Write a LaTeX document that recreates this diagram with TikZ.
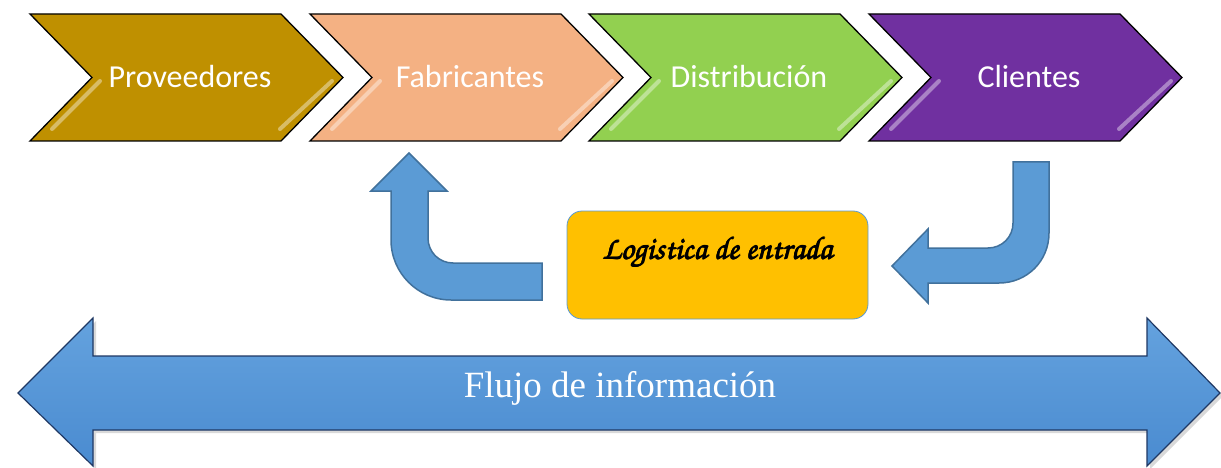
\documentclass[tikz,border=0pt]{standalone}
\usepackage[T1,TU]{fontenc}
\usepackage{fontspec}
\setmainfont{Carlito}
\newfontfamily\flujofont{Liberation Serif}
\usetikzlibrary{shadows, positioning}
\definecolor{provcol}{HTML}{BF9000}
\definecolor{fabcol}{HTML}{F4B183}
\definecolor{distcol}{HTML}{92D050}
\definecolor{clicol}{HTML}{7030A0}
\definecolor{bentblue}{HTML}{5B9BD5}
\definecolor{bentedge}{HTML}{41719C}
\definecolor{logyellow}{HTML}{FFC000}
\definecolor{flujoedge}{HTML}{1F3864}
\definecolor{flujotop}{HTML}{64A2DE}
\definecolor{flujobot}{HTML}{4A8BD0}
% poor man's bold for the script face
\newcommand\heavytext[1]{\rlap{\kern.8pt#1}\rlap{\kern.4pt\raisebox{.6pt}{#1}}\rlap{\raisebox{-.4pt}{#1}}#1}

\begin{document}
\begin{tikzpicture}[x=1pt, y=-1pt,
    chevron/.style={draw=black, line width=1.3pt, line join=miter},
    chevtext/.style={text=white, anchor=base, font=\fontsize{32}{36}\selectfont},
    gloss/.style={white, opacity=0.4, line width=4pt, line cap=round},
    bentarrow/.style={fill=bentblue, draw=bentedge, line width=1.5pt, line join=miter},
    logbox/.style={fill=logyellow, draw=bentblue, line width=0.8pt, rounded corners=15pt,
                   minimum width=301pt, minimum height=108pt},
    logtext/.style={font=\usefont{T1}{pzc}{mb}{it}\fontsize{32}{36}\selectfont},
    flujo/.style={draw=flujoedge, line width=1.2pt, top color=flujotop, bottom color=flujobot,
                  drop shadow={opacity=0.3, shadow xshift=3pt, shadow yshift=-3pt}},
    flujotext/.style={text=white, font=\flujofont\fontsize{37}{40}\selectfont}]
\useasboundingbox (0,0) rectangle (1221,468);

% The four steps of the chain
    \foreach \x/\c/\A/\n in {30/provcol/Proveedores/prov,
                             310/fabcol/Fabricantes/fab,
                             589/distcol/Distribución/dist,
                             869/clicol/Clientes/cli} {
        \draw[chevron, fill=\c] (\x,14) -- ({\x+251},14) -- ({\x+313},77.5)
            -- ({\x+251},141) -- (\x,141) -- ({\x+62},77.5) -- cycle;
        \draw[gloss] ({\x+70},81) -- ({\x+22},129);
        \draw[gloss] ({\x+302},81) -- ({\x+250},129);
        \node[chevtext] (\n) at ({\x+160},88) {\A};
    }

% The box in the middle
\node[logbox] (logbox) at (717.5,265) {};
\node[logtext] (logtext) at (717,253) {\heavytext{Logistica de entrada}};

% Bent arrow back up to the manufacturers
\draw[bentarrow] (542,263) -- (453,263) .. controls (439,263) and (428,252) .. (428,238)
    -- (428,191) -- (447,191) -- (409,153) -- (371,191) -- (391,191) -- (391,240)
    .. controls (391,273) and (418,300) .. (451,300) -- (542,300) -- cycle;

% Bent arrow coming down from the clients
\draw[bentarrow] (1013,162) -- (1013,223) .. controls (1013,237) and (1002,248) .. (988,248)
    -- (928,248) -- (928,229) -- (892,266) -- (928,303) -- (928,283) -- (999,283)
    .. controls (1027,283) and (1049,261) .. (1049,233) -- (1049,162) -- cycle;

% The information flow, both ways
\path[flujo] (18,393) -- (93,318) -- (93,356) -- (1147,356) -- (1147,318) -- (1220,393)
    -- (1147,466) -- (1147,430) -- (93,430) -- (93,466) -- cycle;
\node[flujotext] (flujotext) at (620,388) {Flujo de información};
\end{tikzpicture}
\end{document}
